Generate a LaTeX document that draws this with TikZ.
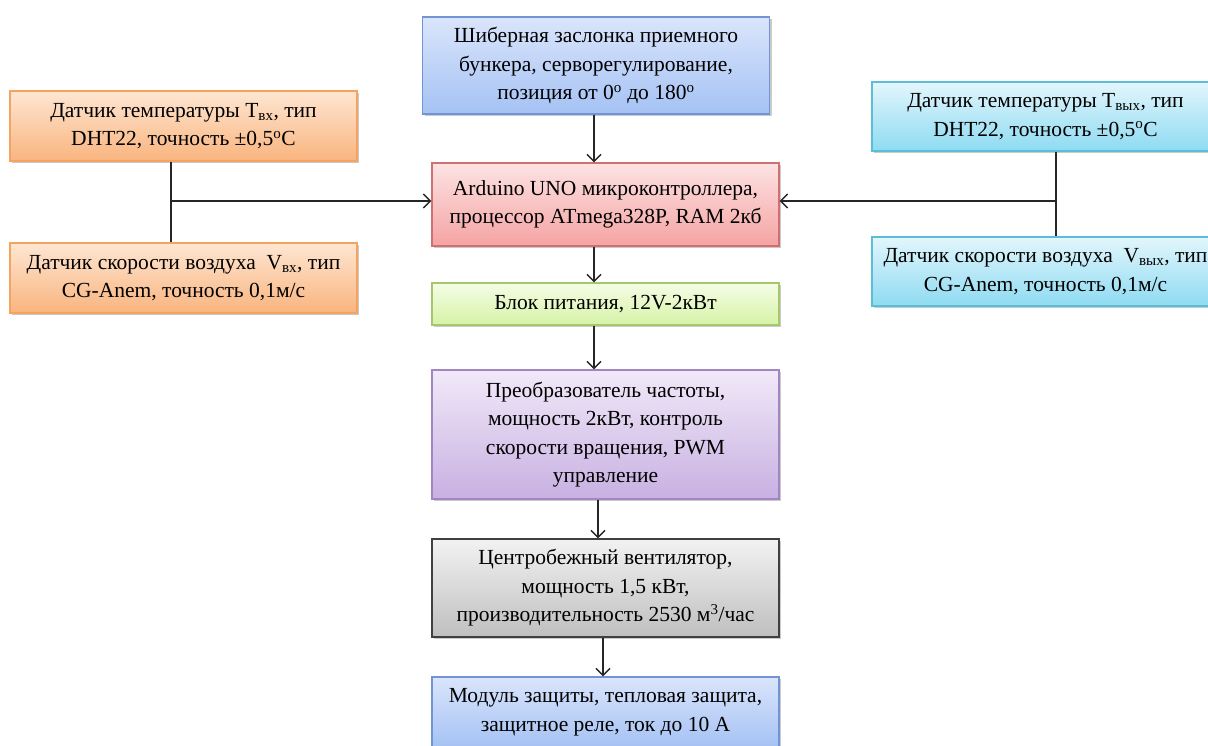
\documentclass[tikz,border=0pt]{standalone}
\usepackage{fontspec}
\setmainfont{Liberation Serif}
\usetikzlibrary{arrows.meta,shadows}

\definecolor{bluetop}{HTML}{DAE5FB}
\definecolor{bluebot}{HTML}{A5C2F4}
\definecolor{blueline}{HTML}{7094D4}
\definecolor{redtop}{HTML}{FDE3E3}
\definecolor{redbot}{HTML}{F5A3A3}
\definecolor{redline}{HTML}{D07070}
\definecolor{greentop}{HTML}{F5FDE6}
\definecolor{greenbot}{HTML}{D5F2A6}
\definecolor{greenline}{HTML}{A6C76A}
\definecolor{violettop}{HTML}{F1E9F8}
\definecolor{violetbot}{HTML}{C8B0E2}
\definecolor{violetline}{HTML}{A286C2}
\definecolor{greytop}{HTML}{F2F2F2}
\definecolor{greybot}{HTML}{BFBFBF}
\definecolor{greyline}{HTML}{404040}
\definecolor{orangetop}{HTML}{FEE6D2}
\definecolor{orangebot}{HTML}{F9B47E}
\definecolor{orangeline}{HTML}{F5A35F}
\definecolor{cyantop}{HTML}{E3F6FC}
\definecolor{cyanbot}{HTML}{8EDBF2}
\definecolor{cyanline}{HTML}{5BBDD8}

\begin{document}
\begin{tikzpicture}[
    x=1pt, y=-1pt,
    unitbox/.style={rectangle, line width=1.2pt, minimum width=347pt, align=center, inner sep=2pt,
        font=\fontsize{21.5}{28.5}\selectfont,
        drop shadow={shadow xshift=2pt, shadow yshift=-2pt, opacity=0.35, fill=black!60}},
    bluebox/.style={unitbox, draw=blueline, top color=bluetop, bottom color=bluebot},
    redbox/.style={unitbox, draw=redline, top color=redtop, bottom color=redbot},
    greenbox/.style={unitbox, draw=greenline, top color=greentop, bottom color=greenbot},
    violetbox/.style={unitbox, draw=violetline, top color=violettop, bottom color=violetbot},
    greybox/.style={unitbox, draw=greyline, top color=greytop, bottom color=greybot},
    orangebox/.style={unitbox, draw=orangeline, top color=orangetop, bottom color=orangebot},
    cyanbox/.style={unitbox, draw=cyanline, top color=cyantop, bottom color=cyanbot},
    link/.style={line width=1.5pt, black!85},
    arr/.style={link, -{Straight Barb[length=7pt,width=14pt]}}
]
\useasboundingbox (0,0) rectangle (1208,745);

\node[bluebox, minimum height=97pt] (shiber) at (596,65.5) {Шиберная заслонка приемного\\бункера, серворегулирование,\\позиция от 0\textsuperscript{o} до 180\textsuperscript{o}};
\node[redbox, minimum height=83pt] (arduino) at (605.5,204.5) {Arduino UNO микроконтроллера,\\процессор ATmega328P, RAM 2кб};
\node[greenbox, minimum height=42pt] (power) at (605.5,304) {Блок питания, 12V-2кВт};
\node[violetbox, minimum height=129pt] (inverter) at (605.5,434.5) {Преобразователь частоты,\\мощность 2кВт, контроль\\скорости вращения, PWM\\управление};
\node[greybox, minimum height=98pt] (fan) at (605.5,588) {Центробежный вентилятор,\\мощность 1,5 кВт,\\производительность 2530 м\textsuperscript{3}/час};
\node[bluebox, minimum height=70pt] (protect) at (605.5,712) {Модуль защиты, тепловая защита,\\защитное реле, ток до 10 А};

\node[orangebox, minimum height=70pt] (tin) at (183.5,126) {Датчик температуры T\textsubscript{вх}, тип\\DHT22, точность ±0,5\textsuperscript{o}C};
\node[orangebox, minimum height=70pt] (vin) at (183.5,278) {Датчик скорости воздуха\ \ V\textsubscript{вх}, тип\\CG-Anem, точность 0,1м/с};
\node[cyanbox, minimum height=69pt] (tout) at (1045.5,116.5) {Датчик температуры T\textsubscript{вых}, тип\\DHT22, точность ±0,5\textsuperscript{o}C};
\node[cyanbox, minimum height=69pt] (vout) at (1045.5,271.5) {Датчик скорости воздуха\ \ V\textsubscript{вых}, тип\\CG-Anem, точность 0,1м/с};

\coordinate (injoin) at (171,201);
\coordinate (outjoin) at (1056,201);

\draw[link] (tin.south -| injoin) -- (vin.north -| injoin);
\draw[arr] (injoin) -- (arduino.west |- injoin);
\draw[link] (tout.south -| outjoin) -- (vout.north -| outjoin);
\draw[arr] (outjoin) -- (arduino.east |- outjoin);

\draw[arr] (shiber.south -| 594,0) -- (arduino.north -| 594,0);
\draw[arr] (arduino.south -| 594,0) -- (power.north -| 594,0);
\draw[arr] (power.south -| 594,0) -- (inverter.north -| 594,0);
\draw[arr] (inverter.south -| 598,0) -- (fan.north -| 598,0);
\draw[arr] (fan.south -| 603,0) -- (protect.north -| 603,0);
\end{tikzpicture}
\end{document}
